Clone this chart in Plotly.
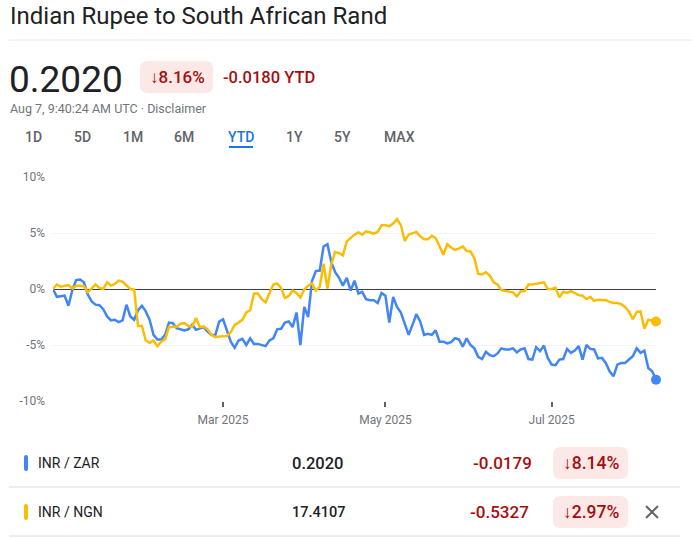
import pandas as pd
import plotly.graph_objects as go

W = 692
H = 537
BLUE = "#4285f4"
YELLOW = "#fbbc04"
RED = "#a50e0e"
GREY = "#70757a"
DARK = "#202124"
FONT = "Roboto"

# one value per weekday, percent change since the start of the year
dates = pd.bdate_range("2025-01-01", "2025-08-07").strftime("%Y-%m-%d").tolist()

inr_zar = [
    0, -0.7, -0.65, -0.6, -1.5, -0.1, 0.8, 0.85, 0.6, -0.5,
    -1.1, -1.4, -1.45, -1.8, -2.45, -2.8, -2.75, -2.95, -2.8, -1.4,
    -2.45, -2.75, -1.9, -1.5, -2.0, -2.75, -4.1, -4.5, -4.5, -4.1,
    -3.0, -3.05, -3.5, -3.6, -3.7, -3.6, -3.2, -3.65, -3.5, -3.4,
    -3.8, -4.1, -4.1, -2.9, -2.7, -3.7, -4.7, -5.25, -4.6, -4.45,
    -5.0, -4.4, -4.9, -4.9, -5.0, -5.1, -4.6, -4.4, -3.6, -3.55,
    -3.0, -2.9, -3.4, -2.1, -5.0, -1.6, -2.5, 0.7, 1.6, 1.65,
    3.8, 4.0, 2.4, 1.5, 1.0, 0.3, 1.0, -0.15, 0.75, -0.4,
    -0.25, -0.9, -1.0, -1.0, -1.25, -0.35, -0.6, -3.0, -0.7, -1.6,
    -2.1, -3.15, -4.1, -3.2, -2.25, -2.9, -4.1, -4.0, -4.1, -3.7,
    -4.7, -4.7, -4.85, -4.75, -4.4, -4.5, -5.15, -4.4, -5.0, -5.3,
    -6.05, -6.25, -5.6, -5.9, -6.0, -5.75, -5.3, -5.4, -5.4, -5.3,
    -5.65, -5.4, -5.3, -6.25, -6.3, -5.2, -5.55, -5.05, -6.15, -6.75,
    -6.8, -6.3, -6.25, -5.35, -5.7, -5.5, -5.1, -6.3, -5.0, -5.35,
    -5.4, -6.2, -6.15, -6.6, -7.35, -7.8, -6.75, -6.6, -6.6, -6.3,
    -6.0, -5.3, -5.7, -5.5, -7.05, -7.35, -8.1,
]

inr_ngn = [
    0, 0.4, 0.2, 0.3, 0.35, 0.05, 0.3, 0.3, 0.25, -0.3,
    0.1, 0.4, 0.1, 0, 0.6, 0.3, 0.45, 0.75, 0.65, 0.3,
    0, -0.05, -3.3, -3.3, -4.6, -4.8, -4.6, -5.1, -4.7, -4.5,
    -3.4, -3.4, -3.35, -3.1, -3.05, -3.3, -3.4, -2.6, -3.4, -3.35,
    -3.6, -4.1, -4.3, -4.25, -4.2, -4.2, -3.85, -3.2, -3.0, -2.75,
    -2.1, -1.9, -0.4, -0.4, -0.9, -1.2, -0.35, 0.4, 0.5, 0.1,
    -0.8, -0.6, -0.15, -0.35, -0.75, -0.05, 0.3, 0.5, -0.15, 0.2,
    2.25, 0.05, 2.2, 3.3, 3.2, 3.0, 4.25, 4.55, 4.85, 5.05,
    4.85, 5.15, 5.05, 4.95, 5.1, 5.7, 5.7, 5.6, 5.85, 6.25,
    5.7, 4.3, 4.85, 4.95, 5.1, 4.7, 4.45, 4.45, 4.75, 4.55,
    3.8, 3.05, 4.0, 3.7, 3.5, 3.6, 3.8, 3.4, 3.35, 2.75,
    1.35, 1.3, 1.5, 1.2, 0.6, 0.4, -0.1, -0.15, -0.25, -0.3,
    -0.65, -0.2, -0.2, 0.4, 0.4, 0.45, 0.5, 0.6, 0, 0,
    0.1, -0.75, -0.25, -0.35, -0.2, -0.4, -0.55, -0.6, -0.9, -0.7,
    -1.05, -0.95, -0.95, -1.0, -1.15, -1.25, -1.25, -1.35, -1.6, -2.0,
    -2.7, -2.05, -2.0, -3.55, -2.75, -2.85, -2.9,
]

y_ticks = [-10, -5, 0, 5, 10]
y_labels = ["-10%", "-5%", "0%", "5%", "10%"]
x_ticks = ["2025-03-04", "2025-05-01", "2025-07-01"]
x_labels = ["Mar 2025", "May 2025", "Jul 2025"]

ranges = ["1D", "5D", "1M", "6M", "YTD", "1Y", "5Y", "MAX"]
range_centers = [33, 82, 133, 184, 241, 294, 342, 399]


def px(x):
    return x / W


def py(y):
    return 1 - y / H


def label(x, y, text, size=14, color=DARK, anchor="left", weight=400):
    fig.add_annotation(
        x=px(x), y=py(y), xref="paper", yref="paper", text=text, showarrow=False,
        xanchor=anchor, yanchor="middle", borderpad=0,
        font=dict(family=FONT, size=size, color=color, weight=weight),
    )


def box(x0, y0, x1, y1, color, r=0):
    # rounded rectangle in page pixels
    rx, ry = r / W, r / H
    a, b, c, d = px(x0), px(x1), py(y0), py(y1)
    path = (
        f"M {a + rx} {c} L {b - rx} {c} Q {b} {c} {b} {c - ry} "
        f"L {b} {d + ry} Q {b} {d} {b - rx} {d} "
        f"L {a + rx} {d} Q {a} {d} {a} {d + ry} "
        f"L {a} {c - ry} Q {a} {c} {a + rx} {c} Z"
    )
    fig.add_shape(type="path", path=path, xref="paper", yref="paper",
                  fillcolor=color, line_width=0, layer="below")


def rule(x0, y0, x1, y1, color, width=1):
    fig.add_shape(type="line", x0=px(x0), y0=py(y0), x1=px(x1), y1=py(y1),
                  xref="paper", yref="paper", line=dict(color=color, width=width))


fig = go.Figure()
for name, values, color in [("INR / ZAR", inr_zar, BLUE), ("INR / NGN", inr_ngn, YELLOW)]:
    fig.add_trace(go.Scatter(x=dates, y=values, mode="lines", name=name,
                             line=dict(color=color, width=2.5)))
    fig.add_trace(go.Scatter(x=dates[-1:], y=values[-1:], mode="markers", cliponaxis=False,
                             marker=dict(color=color, size=10)))

fig.update_layout(
    width=W, height=H, showlegend=False, plot_bgcolor="white", paper_bgcolor="white",
    margin=dict(l=0, r=0, t=0, b=0, autoexpand=False), font=dict(family=FONT),
)
fig.update_xaxes(
    type="category", domain=[px(53), px(656)], range=[0, len(dates) - 1],
    tickmode="array", tickvals=x_ticks, ticktext=x_labels, showgrid=False, zeroline=False,
    ticks="outside", ticklen=5, tickwidth=2, tickcolor="#5f6368",
    tickfont=dict(size=12, color=GREY), showline=False, ticklabelstandoff=3,
)
fig.update_yaxes(
    domain=[py(401), py(177)], range=[-10, 10], tickvals=y_ticks, ticktext=y_labels,
    showgrid=True, gridcolor="#f1f3f4", gridwidth=1,
    zeroline=True, zerolinecolor="#3c4043", zerolinewidth=1,
    tickfont=dict(size=12, color=GREY), ticks="", showline=False, ticklabelstandoff=7,
)

# header
label(9, 16, "Indian Rupee to South African Rand", size=24)
rule(9, 40, 692, 40, "#e8eaed")
label(8, 79, "0.2020", size=37)
box(140, 61, 213, 93, "#fce8e6", r=8)
label(177, 77, "↓8.16%", size=17, color=RED, anchor="center", weight=500)
label(222, 77, "-0.0180 YTD", size=16.5, color=RED, weight=500)
label(9, 109, "Aug 7, 9:40:24 AM UTC · Disclaimer", size=12.5, color=GREY)

for text, center in zip(ranges, range_centers):
    label(center, 137, text, size=14, anchor="center", weight=500,
          color="#1a73e8" if text == "YTD" else "#5f6368")
rule(229, 147, 253, 147, "#1a73e8", width=2)

# table below the chart
box(24, 455, 28, 471, BLUE, r=2)
label(37, 463, "INR / ZAR", size=14)
label(291, 463, "0.2020", size=16.5, weight=500)
label(533, 463, "-0.0179", size=17, color=RED, anchor="right", weight=500)
box(553, 447, 628, 479, "#fce8e6", r=8)
label(591, 463, "↓8.14%", size=17.5, color=RED, anchor="center", weight=500)
rule(9, 487, 680, 487, "#dadce0")

box(24, 504, 28, 520, YELLOW, r=2)
label(37, 512, "INR / NGN", size=14)
label(291, 512, "17.4107", size=14.5, weight=500)
label(530, 512, "-0.5327", size=17, color=RED, anchor="right", weight=500)
box(553, 496, 628, 528, "#fce8e6", r=8)
label(591, 512, "↓2.97%", size=17.5, color=RED, anchor="center", weight=500)
rule(646, 506, 658, 518, "#5f6368", width=2)
rule(646, 518, 658, 506, "#5f6368", width=2)
rule(9, 536, 680, 536, "#dadce0")

fig.write_html("out.html", post_script="document.body.style.margin='0';",
               config={"displayModeBar": False})
